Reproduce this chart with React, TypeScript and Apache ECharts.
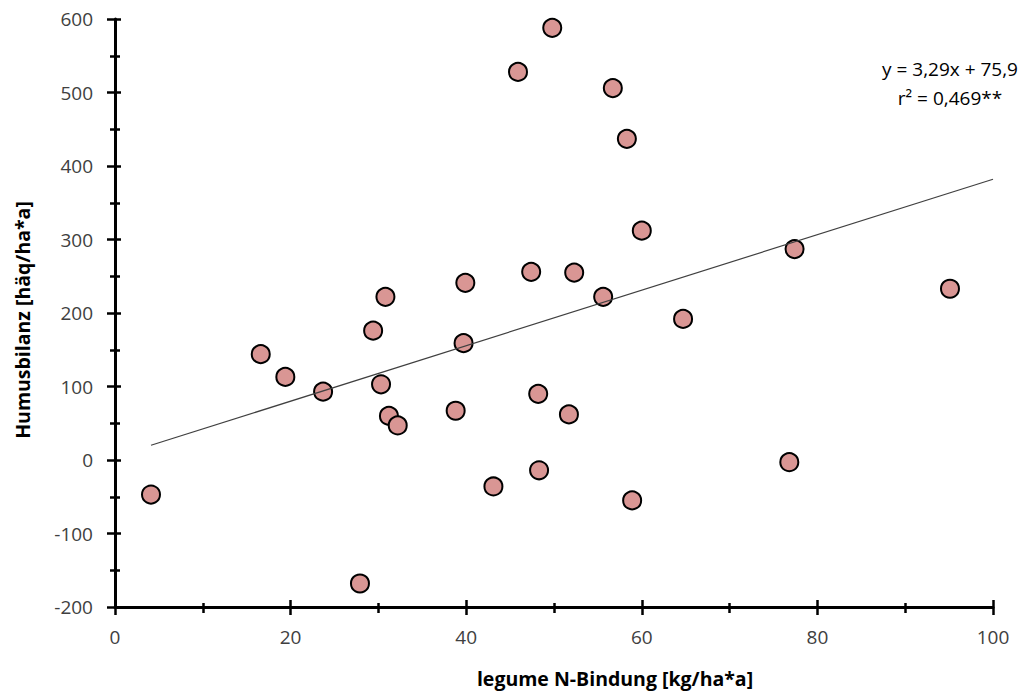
import React, { useEffect, useRef } from "react";
import * as echarts from "echarts";

// Data
const legumeN: number[] = [4.1, 16.6, 19.4, 23.7, 27.9, 29.4, 30.3, 30.8, 31.2, 32.2, 38.8, 39.7, 39.9, 43.1, 45.9, 47.4, 48.2, 48.3, 49.8, 51.7, 52.3, 55.6, 56.7, 58.3, 58.9, 60.0, 64.7, 76.8, 77.4, 95.1];
const humus: number[] = [-47, 144, 113, 93, -168, 176, 103, 222, 60, 47, 67, 159, 241, -36, 528, 256, 90, -14, 588, 62, 255, 222, 506, 437, -55, 312, 192, -3, 287, 233];
const trendX: number[] = [4.1, 100];
const trendY: number[] = [20, 382];
const eqLines: string[] = ["y = 3,29x + 75,9", "r² = 0,469**"];
const xTitle = "legume N-Bindung [kg/ha*a]";
const yTitle = "Humusbilanz [häq/ha*a]";

const FONT = "'Open Sans', 'Noto Sans', sans-serif";

export default function App() {
  const ref = useRef<HTMLDivElement>(null);
  useEffect(() => {
    if (!ref.current) return;
    const chart = echarts.init(ref.current, undefined, { renderer: "svg" });
    const scatterData = legumeN.map((x, i) => [x, humus[i]]);
    const trendData = trendX.map((x, i) => [x, trendY[i]]);
    const axisLine = { show: true, onZero: false, lineStyle: { color: "#000", width: 3 } };
    const labelStyle = { color: "#404040", fontSize: 19, fontFamily: FONT };
    const titleStyle = { fill: "#000", fontSize: 19.5, fontWeight: "bold" as const, fontFamily: FONT, align: "center" as const, verticalAlign: "middle" as const };
    const eqStyle = { fill: "#000", fontSize: 19, fontFamily: FONT, align: "center" as const, verticalAlign: "middle" as const };
    chart.setOption({
      animation: false,
      backgroundColor: "#fff",
      grid: { left: 115, right: 36, top: 19, bottom: 86, containLabel: false },
      xAxis: [
        {
          type: "value", min: 0, max: 100, interval: 20, position: "bottom",
          axisLine,
          axisTick: { show: true, length: 8, lineStyle: { color: "#000", width: 2.5 } },
          minorTick: { show: true, splitNumber: 2, length: 6, lineStyle: { color: "#000", width: 2.5 } },
          splitLine: { show: false },
          axisLabel: { ...labelStyle, margin: 20 },
        },
        {
          type: "value", min: 0, max: 100, interval: 20, position: "bottom", gridIndex: 0,
          axisLine: { show: false, onZero: false },
          axisTick: { show: true, inside: true, length: 7, lineStyle: { color: "#000", width: 2.5 } },
          minorTick: { show: true, splitNumber: 2, length: 4, lineStyle: { color: "#000", width: 2.5 } },
          splitLine: { show: false },
          axisLabel: { show: false },
        },
      ],
      yAxis: [
        {
          type: "value", min: -200, max: 600, interval: 100, position: "left",
          axisLine,
          axisTick: { show: true, length: 8, lineStyle: { color: "#000", width: 2.5 } },
          minorTick: { show: true, splitNumber: 2, length: 5, lineStyle: { color: "#000", width: 2.5 } },
          splitLine: { show: false },
          axisLabel: { ...labelStyle, margin: 22 },
        },
        {
          type: "value", min: -200, max: 600, interval: 100, position: "left", gridIndex: 0,
          axisLine: { show: false, onZero: false },
          axisTick: { show: true, inside: true, length: 6, lineStyle: { color: "#000", width: 2.5 } },
          minorTick: { show: true, splitNumber: 2, length: 5, lineStyle: { color: "#000", width: 2.5 } },
          splitLine: { show: false },
          axisLabel: { show: false },
        },
      ],
      series: [
        {
          type: "scatter", xAxisIndex: 0, yAxisIndex: 0,
          data: scatterData, symbol: "circle", symbolSize: 18,
          itemStyle: { color: "#D99694", borderColor: "#000", borderWidth: 2, opacity: 1 },
          z: 2,
        },
        {
          type: "line", xAxisIndex: 0, yAxisIndex: 0,
          data: trendData, showSymbol: false, symbol: "none",
          lineStyle: { color: "#404040", width: 1.2 },
          z: 3, silent: true,
        },
      ],
      graphic: [
        { type: "text", x: 950, y: 69, style: { ...eqStyle, text: eqLines[0] } },
        { type: "text", x: 950, y: 98, style: { ...eqStyle, text: eqLines[1] } },
        { type: "text", x: 615, y: 678, style: { ...titleStyle, text: xTitle } },
        { type: "text", x: 22, y: 320, rotation: Math.PI / 2, style: { ...titleStyle, text: yTitle } },
      ],
    });
    return () => chart.dispose();
  }, []);
  return <div ref={ref} style={{ width: 1029, height: 693, position: "absolute", left: 0, top: 0 }} />;
}
